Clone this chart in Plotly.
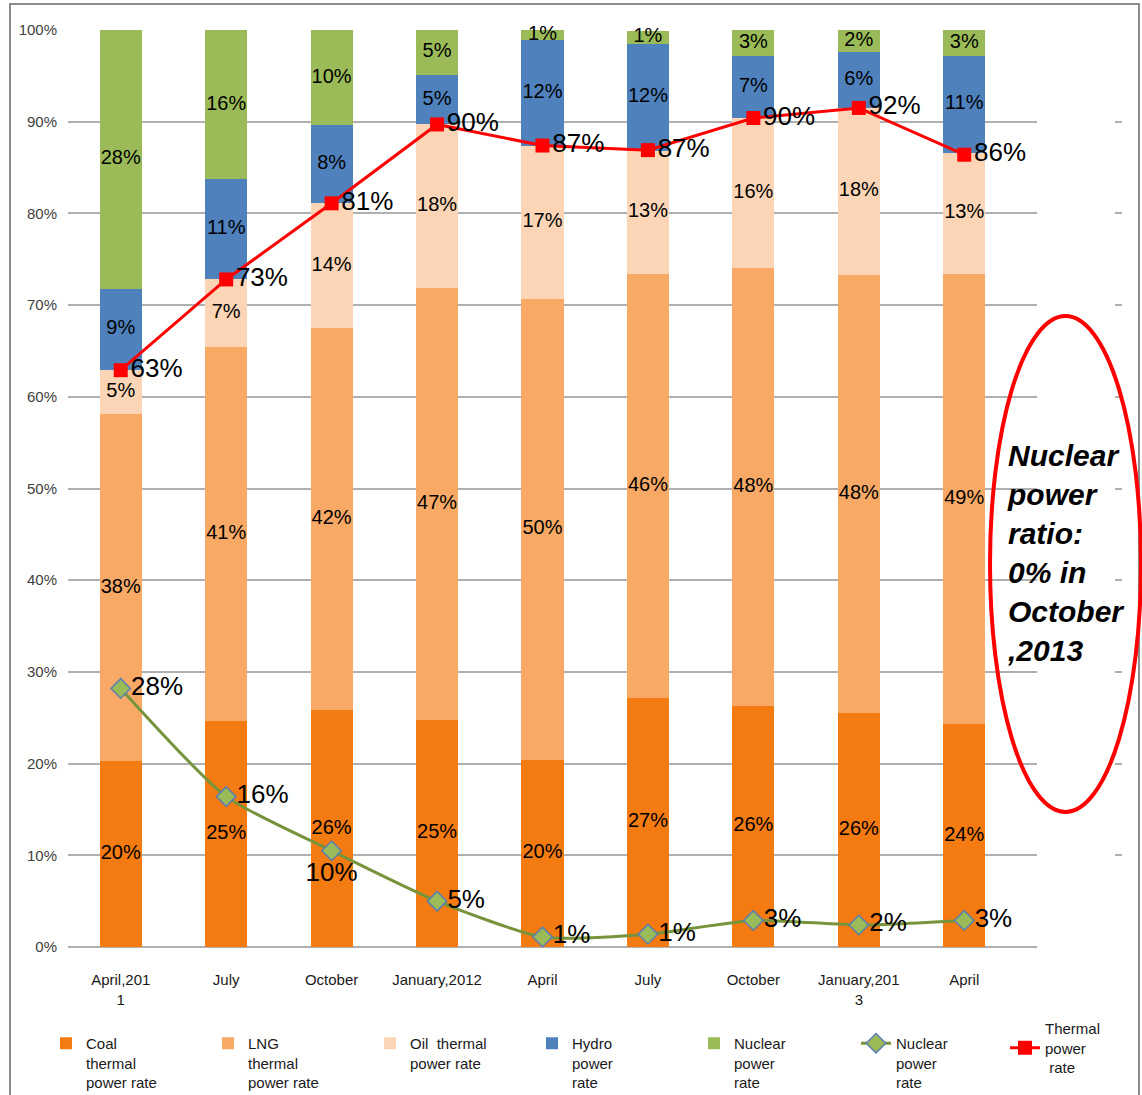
import numpy as np
import plotly.graph_objects as go

categories = ["April,201<br>1", "July", "October", "January,2012", "April",
              "July", "October", "January,201<br>3", "April"]
coal = [20.3, 24.6, 25.8, 24.8, 20.4, 27.2, 26.3, 25.5, 24.3]
lng = [37.8, 40.8, 41.7, 47.1, 50.3, 46.2, 47.7, 47.8, 49.1]
oil = [4.8, 7.4, 13.6, 17.8, 16.7, 13.4, 16.4, 18.2, 13.2]
hydro = [8.9, 10.9, 8.5, 5.4, 11.5, 11.7, 6.8, 6.1, 10.6]
nuclear = [28.2, 16.3, 10.4, 4.9, 1.1, 1.4, 2.8, 2.4, 2.8]
nuclear_line = [28.2, 16.4, 10.5, 5.0, 1.1, 1.4, 2.9, 2.4, 2.9]
thermal_line = [62.9, 72.8, 81.1, 89.7, 87.4, 86.9, 90.4, 91.5, 86.4]

series_names = ["Coal<br>thermal<br>power rate", "LNG<br>thermal<br>power rate",
                "Oil  thermal<br>power rate", "Hydro<br>power<br>rate",
                "Nuclear<br>power<br>rate"]
series_colors = ["#F47A12", "#F7A965", "#FBD5B5", "#4F81BD", "#9BBB59"]
nuclear_line_name = "Nuclear<br>power<br>rate"
thermal_line_name = "Thermal<br>power<br> rate"

LABEL_FONT = "Liberation Sans, Arial, sans-serif"
ARIAL = "Liberation Sans, Arial, sans-serif"

W, H = 1142, 1095
L, R, T, B = 68, 20, 30, 148
PW, PH = W - L - R, H - T - B
PLOT_RIGHT = 1037
XDOM = (PLOT_RIGHT - L) / PW


def px_x(px):
    return (px - L) / PW


def px_y(py):
    return (H - B - py) / PH


x = np.arange(len(categories))
fig = go.Figure()

stack = [coal, lng, oil, hydro, nuclear]
for vals, name, col in zip(stack, series_names, series_colors):
    fig.add_trace(go.Bar(x=x, y=vals, name=name, marker=dict(color=col, line=dict(width=0)),
                         width=0.4, hoverinfo="y", legend="legend"))

# segment labels
arr = np.array(stack)
cum = np.cumsum(arr, axis=0)
mids = cum - arr / 2
lx, ly, lt = [], [], []
for i in range(arr.shape[0]):
    for j in range(arr.shape[1]):
        lx.append(x[j])
        ly.append(mids[i, j])
        lt.append(f"{arr[i, j]:.0f}%")
fig.add_trace(go.Scatter(x=lx, y=ly, text=lt, mode="text", showlegend=False,
                         textfont=dict(family=LABEL_FONT, size=20, color="#000000"),
                         hoverinfo="skip", cliponaxis=False))

nuc_pos = ["middle right", "middle right", "bottom center", "middle right", "middle right",
           "middle right", "middle right", "middle right", "middle right"]
fig.add_trace(go.Scatter(x=x, y=nuclear_line, name=nuclear_line_name,
                         mode="lines+markers+text", legend="legend",
                         line=dict(color="#77933C", width=3, shape="spline", smoothing=0.6),
                         marker=dict(symbol="diamond", size=15, color="#9BBB59",
                                     line=dict(color="#5A7FB0", width=1.5)),
                         text=[f"{v:.0f}%" for v in nuclear_line], textposition=nuc_pos,
                         textfont=dict(family=LABEL_FONT, size=26, color="#000000"),
                         cliponaxis=False))
fig.add_trace(go.Scatter(x=x, y=thermal_line, name=thermal_line_name,
                         mode="lines+markers+text", legend="legend2",
                         line=dict(color="#FF0000", width=3),
                         marker=dict(symbol="square", size=14, color="#FF0000"),
                         text=[f"{v:.0f}%" for v in thermal_line], textposition="middle right",
                         textfont=dict(family=LABEL_FONT, size=26, color="#000000"),
                         cliponaxis=False))

# outer border
fig.add_shape(type="rect", xref="paper", yref="paper",
              x0=px_x(10), x1=px_x(1139), y0=px_y(1100), y1=px_y(4),
              line=dict(color="#8C8C8C", width=2), layer="below")
# red ellipse
fig.add_shape(type="circle", xref="paper", yref="paper",
              x0=px_x(990), x1=px_x(1141), y0=px_y(812), y1=px_y(316),
              line=dict(color="#FF0000", width=4))
fig.add_annotation(xref="paper", yref="paper", x=px_x(1005), y=px_y(437),
                   xanchor="left", yanchor="top", align="left", showarrow=False,
                   text="<b><i>Nuclear<br>power<br>ratio:<br>0% in<br>October<br>,2013</i></b>",
                   font=dict(family=ARIAL, size=30, color="#000000"))

legend_common = dict(orientation="h", xanchor="left", yanchor="top", traceorder="normal",
                     entrywidthmode="pixels", itemwidth=30, bgcolor="rgba(0,0,0,0)",
                     font=dict(family=ARIAL, size=15, color="#1A1A1A"))

fig.update_layout(
    width=W, height=H,
    margin=dict(l=L, r=R, t=T, b=B, autoexpand=False),
    paper_bgcolor="white", plot_bgcolor="white",
    barmode="stack",
    showlegend=True,
    legend=dict(x=px_x(46), y=px_y(1027), valign="top", entrywidth=117, **legend_common),
    legend2=dict(x=px_x(1005), y=px_y(1012), valign="middle", entrywidth=70, **legend_common),
    xaxis=dict(domain=[0, XDOM], range=[-0.5, 8.69], tickmode="array", tickvals=list(x),
               ticktext=categories, showgrid=False, zeroline=False, showline=False,
               ticks="", ticklabelstandoff=22,
               tickfont=dict(family=ARIAL, size=15, color="#1A1A1A")),
    yaxis=dict(range=[0, 100], dtick=10, ticksuffix="%", showgrid=True,
               gridcolor="#B0B0B0", gridwidth=1.5, zeroline=True, zerolinecolor="#B0B0B0",
               zerolinewidth=1.5, showline=False, ticks="", ticklabelstandoff=10,
               tickfont=dict(family=ARIAL, size=15, color="#404040")),
    yaxis2=dict(range=[0, 100], dtick=10, overlaying="y", side="right", anchor="free",
                position=1, showgrid=False, zeroline=False, showline=False,
                showticklabels=False, ticks="inside", ticklen=7, tickcolor="#B0B0B0",
                tickwidth=1.5),
)
# invisible trace so the secondary axis ticks are drawn
fig.add_trace(go.Scatter(x=[0], y=[0], yaxis="y2", mode="markers",
                         marker=dict(opacity=0), showlegend=False, hoverinfo="skip"))

fig.write_html("out.html")
